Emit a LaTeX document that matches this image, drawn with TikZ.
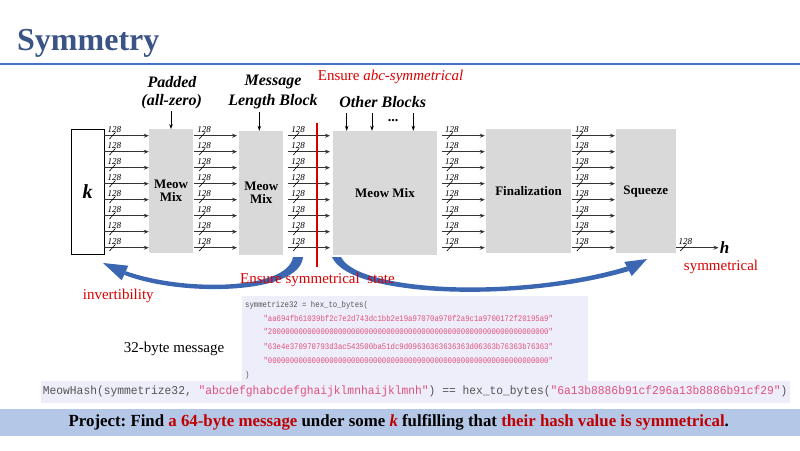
\documentclass[tikz,border=0pt]{standalone}
\usepackage{fontspec}
\setmainfont{Liberation Serif}
\setmonofont{Liberation Mono}
\usetikzlibrary{arrows.meta}
\definecolor{titleblue}{HTML}{3B5486}
\definecolor{lineblue}{HTML}{4472C4}
\definecolor{boxgray}{HTML}{D9D9D9}
\definecolor{myred}{HTML}{D80000}
\definecolor{darkred}{HTML}{C00000}
\definecolor{arrblue}{HTML}{3A66B2}
\definecolor{codebg}{HTML}{EEEEFA}
\definecolor{codegray}{HTML}{555555}
\definecolor{codepink}{HTML}{E0507E}
\definecolor{barblue}{HTML}{B4C7E7}
\newcommand{\fsz}[1]{\fontsize{#1}{#1}\selectfont}
\newcommand{\codeln}[1]{\scalebox{0.86}[1]{\fsz{8.5}\ttfamily #1}}
\frenchspacing
\begin{document}
\begin{tikzpicture}[x=1pt,y=-1pt,
  gbox/.style={fill=boxgray, draw=none, inner sep=0, align=center, font=\fsz{13}\bfseries},
  kbox/.style={fill=white, draw=black, line width=0.9, inner sep=0},
  arr/.style={draw=black!80, line width=1.1, -{Stealth[length=5pt,width=4pt]}},
  darr/.style={draw=black, line width=0.8, -{Stealth[length=5pt,width=3.5pt]}},
  lab/.style={inner sep=0, font=\fsz{9}\itshape},
  toplab/.style={inner sep=0, font=\fsz{16}\bfseries\itshape},
  redlab/.style={inner sep=0, font=\fsz{15}, text=myred},
  barrow/.style={fill=arrblue, draw=none},
  codet/.style={inner sep=0, anchor=west}]
\useasboundingbox (0,0) rectangle (800,450);
% title
\node[anchor=base west, inner sep=0, font=\fsz{32}\bfseries, text=titleblue] (title) at (17,50) {Symmetry};
\draw[lineblue, line width=1.8] (0,64) -- (800,64);
% boxes
\node[kbox, minimum width=33, minimum height=125] (k) at (87.5,191.5) {\fsz{20}\bfseries\itshape k};
\node[gbox, minimum width=44, minimum height=123.4] (mm1) at (171,191) {Meow\\Mix};
\node[gbox, minimum width=44, minimum height=124] (mm2) at (261.3,193) {Meow\\Mix};
\node[gbox, minimum width=104.6, minimum height=124] (mm3) at (385,193) {Meow Mix};
\node[gbox, minimum width=85, minimum height=124] (fin) at (528.5,191.3) {Finalization};
\node[gbox, minimum width=60, minimum height=124] (sq) at (645.7,191.3) {Squeeze};
\node[inner sep=1, font=\fsz{17}\bfseries\itshape] (h) at (724.5,247.7) {h};
% rows of 128-bit arrows
\foreach \a/\b/\s/\e in {k/mm1/0/0, mm1/mm2/1/2, mm2/mm3/4.7/2.5, mm3/fin/4.4/1, fin/sq/0.7/0.5}{
  \foreach \y in {135.7,151.7,167.7,183.7,199.7,215.7,231.7,247.7}{
    \path (\a.east |- 0,\y) ++(\s,0) coordinate (st);
    \draw[arr, shorten >=\e pt] (st) -- (\b.west |- st);
    \node[lab] at ([shift={(10,-6.5)}]st) {128};
    \draw[line width=0.6] ([shift={(5,3.3)}]st) -- ([shift={(11,-3.4)}]st);
  }
}
\path (sq.east |- 0,247.7) coordinate (so);
\draw[arr] (so) -- (h.west |- so);
\node[lab] at ([shift={(9.5,-6.5)}]so) {128};
\draw[line width=0.6] ([shift={(4.5,3.3)}]so) -- ([shift={(10.5,-3.4)}]so);
% red separator
\draw[myred, line width=1.8] (317.3,122.7) -- (317.3,266.7);
% top labels
\node[toplab] (pad1) at (172,81.7) {Padded};
\node[toplab] (pad2) at (171.7,101.7) {(all-zero)};
\node[toplab] (msg1) at (273,81.7) {Message};
\node[toplab] (msg2) at (273,101.7) {Length Block};
\node[toplab] (oth) at (382.7,101.7) {Other Blocks};
\node[anchor=west, inner sep=0, font=\fsz{15}, text=myred] (ens) at (317.7,77.3) {Ensure \textit{abc-symmetrical}};
\node[anchor=base, inner sep=0, font=\fsz{14}\bfseries] (dots) at (393,121) {...};
\coordinate (pa) at (171,111);
\coordinate (ma) at (259.3,112);
\coordinate (o1) at (346.7,113);
\coordinate (o2) at (372,113);
\coordinate (o3) at (413.3,113);
\draw[darr] (pa) -- (pa |- mm1.north);
\draw[darr] (ma) -- (ma |- mm2.north);
\draw[darr] (o1) -- (o1 |- mm3.north);
\draw[darr] (o2) -- (o2 |- mm3.north);
\draw[darr] (o3) -- (o3 |- mm3.north);
% blue curved arrows
\fill[barrow] (293,257) -- (303,257) .. controls (300,295) and (180,297) .. (124.2,274.8)
  -- (125.8,271.2) .. controls (185,292) and (288,290) .. (293,257) -- cycle;
\fill[barrow] (103,263) -- (128.3,265.7) -- (121.7,280.3) -- cycle;
\fill[barrow] (332,257) -- (341,257) .. controls (358,292) and (520,299) .. (627,266.5)
  -- (629,271) .. controls (520,303) and (350,298) .. (332,257) -- cycle;
\fill[barrow] (647,259) -- (631.7,276.1) -- (624.3,261.9) -- cycle;
% red notes
\node[anchor=west, redlab] (ess) at (240,280) {Ensure symmetrical~ state};
\node[redlab] (inv) at (118.3,295.7) {invertibility};
\node[redlab] (sym) at (721,267) {symmetrical};
% code
\fill[codebg] (241.7,296) rectangle (588,381);
\fill[codebg] (40.7,380.7) rectangle (790,402.7);
\node[codet, text=codegray] (c0) at (245,305) {\codeln{symmetrize32 = hex\_to\_bytes(}};
\node[codet, text=codepink] (c1) at (263.3,318.3) {\codeln{"aa694fb61039bf2c7e2d743dc1bb2e19a97070a970f2a9c1a9700172f20195a9"}};
\node[codet, text=codepink] (c2) at (263.3,331.7) {\codeln{"2000000000000000000000000000000000000000000000000000000000000000"}};
\node[codet, text=codepink] (c3) at (263.3,346.7) {\codeln{"63e4e370970793d3ac543500ba51dc9d09636363636363d06363b76363b76363"}};
\node[codet, text=codepink] (c4) at (263.3,360.7) {\codeln{"0000000000000000000000000000000000000000000000000000000000000000"}};
\node[codet, text=codegray] (c5) at (245,375) {\codeln{)}};
\node[codet] (mh) at (42.7,391.5) {\scalebox{0.94}[1]{\fsz{12}\ttfamily\color{codegray}MeowHash(symmetrize32, \color{codepink}"abcdefghabcdefghaijklmnhaijklmnh"\color{codegray}) == hex\_to\_bytes(\color{codepink}"6a13b8886b91cf296a13b8886b91cf29"\color{codegray})}};
\node[inner sep=0, font=\fsz{15}] (msg) at (174,349.3) {32-byte message};
% project bar
\fill[barblue] (0,409) rectangle (800,435.7);
\node[inner sep=0] (proj) at (398.8,422.3) {\scalebox{0.99}[1]{\fsz{17}\bfseries Project: Find \textcolor{darkred}{a 64-byte message} under some \textcolor{darkred}{\textit{k}} fulfilling that \textcolor{darkred}{their hash value is symmetrical}.}};
\end{tikzpicture}
\end{document}
